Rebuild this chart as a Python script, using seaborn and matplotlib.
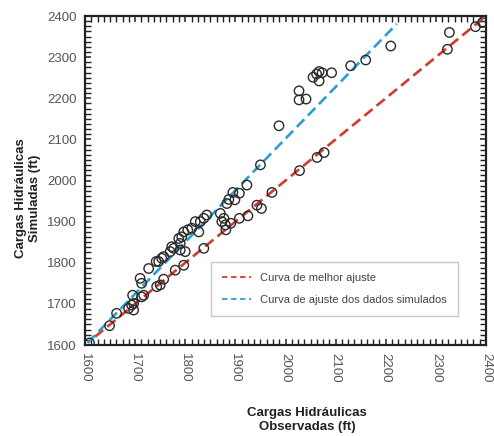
import matplotlib
matplotlib.use("Agg")
import matplotlib.pyplot as plt
import seaborn as sns
import pandas as pd
from matplotlib.ticker import MultipleLocator

# ---- data ----
observed = [2393, 2379, 2327, 2323, 2210, 2160, 2130, 2092, 2073, 2067, 2062, 2055, 2067,
            2027, 2027, 2041, 1987, 1950, 2077, 2063, 2028, 1973, 1923, 1895, 1908, 1887,
            1899, 1883, 1943, 1952, 1925, 1908, 1880, 1891, 1870, 1877, 1873, 1881,
            1843, 1837, 1830, 1820, 1827, 1813, 1805, 1797, 1793, 1787, 1790, 1800, 1790,
            1777, 1770, 1773, 1757, 1753, 1747, 1742, 1727, 1710, 1713, 1797, 1780, 1837,
            1757, 1750, 1743, 1717, 1713, 1695, 1693, 1697, 1687, 1697, 1663, 1649, 1609]
simulated = [2384, 2374, 2360, 2319, 2327, 2293, 2279, 2262, 2262, 2265, 2259, 2251, 2242,
             2218, 2196, 2198, 2133, 2038, 2068, 2056, 2024, 1971, 1989, 1971, 1969, 1954,
             1953, 1944, 1940, 1932, 1914, 1908, 1892, 1896, 1920, 1908, 1900, 1880,
             1916, 1908, 1900, 1900, 1875, 1884, 1880, 1875, 1863, 1859, 1847, 1827, 1831,
             1835, 1827, 1839, 1815, 1811, 1803, 1803, 1786, 1762, 1750, 1794, 1782, 1835,
             1760, 1746, 1742, 1721, 1717, 1721, 1697, 1701, 1689, 1685, 1677, 1647, 1605]

best_fit_x = [1620, 2400]
best_fit_y = [1620, 2400]
sim_fit_x = [1605, 2222]
sim_fit_y = [1605, 2381]

x_ticks = [1600, 1700, 1800, 1900, 2000, 2100, 2200, 2300, 2400]
y_ticks = [1600, 1700, 1800, 1900, 2000, 2100, 2200, 2300, 2400]

label_best = "Curva de melhor ajuste"
label_sim = "Curva de ajuste dos dados simulados"
xlabel = "Cargas Hidráulicas\nObservadas (ft)"
ylabel = "Cargas Hidráulicas\nSimuladas (ft)"

# ---- plot ----
sns.set_style("white")
plt.rcParams['font.family'] = ['Liberation Sans', 'DejaVu Sans']

fig = plt.figure(figsize=(4.94, 4.36), dpi=100)
ax = fig.add_axes([85/494, 1 - 345/436, 401/494, 329/436])

pts = pd.DataFrame({"obs": observed, "sim": simulated})
sns.scatterplot(data=pts, x="obs", y="sim", ax=ax, marker="o", s=46,
                facecolor="none", edgecolor="#2a2a2a", linewidth=1.0, zorder=3)

lines = pd.concat([
    pd.DataFrame({"x": best_fit_x, "y": best_fit_y, "curve": label_best}),
    pd.DataFrame({"x": sim_fit_x, "y": sim_fit_y, "curve": label_sim}),
])
sns.lineplot(data=lines, x="x", y="y", hue="curve", ax=ax,
             palette={label_best: "#d33a2c", label_sim: "#2a9fd4"},
             linewidth=1.9, estimator=None, sort=False, zorder=2)
for ln in ax.get_lines():
    ln.set_dashes((4, 2))

ax.set_xlim(1600, 2400)
ax.set_ylim(1600, 2400)
ax.set_xticks(x_ticks)
ax.set_yticks(y_ticks)
ax.xaxis.set_minor_locator(MultipleLocator(12.5))
ax.yaxis.set_minor_locator(MultipleLocator(12.5))
ax.tick_params(which="both", direction="in", top=True, right=True,
               bottom=True, left=True, color="#222222")
ax.tick_params(which="major", length=4.5, width=1.1, labelsize=9.5,
               labelcolor="#555555", pad=6)
ax.tick_params(which="minor", length=4, width=1.0)
for lab in ax.get_xticklabels():
    lab.set_rotation(-90)
for sp in ax.spines.values():
    sp.set_linewidth(1.6)
    sp.set_color("#222222")

ax.set_xlabel("")
ax.set_ylabel("")
fig.text(307/494, 1 - 420/436, xlabel, ha="center", va="center",
         fontsize=9.5, fontweight="bold", color="#222222", linespacing=1.3)
fig.text(28/494, 1 - 198/436, ylabel, ha="center", va="center", rotation=90,
         fontsize=9.5, fontweight="bold", color="#222222", linespacing=1.3)

leg = ax.legend(loc="lower right", bbox_to_anchor=(0.943, 0.07), fontsize=8,
                frameon=True, fancybox=False, edgecolor="#bbbbbb",
                handlelength=2.6, labelspacing=1.1, borderpad=1.0,
                handletextpad=0.8, title=None)
for h in leg.get_lines():
    h.set_dashes((3, 2))
    h.set_linewidth(1.3)
for t in leg.get_texts():
    t.set_color("#444444")

fig.savefig("out.png", dpi=100)
